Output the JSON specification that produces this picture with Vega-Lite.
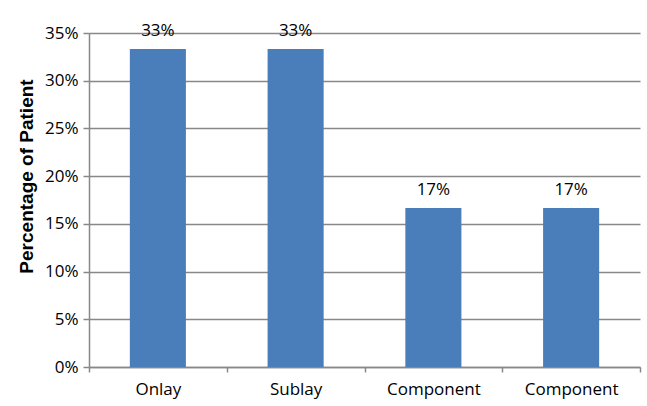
{
  "$schema": "https://vega.github.io/schema/vega-lite/v6.json",
  "autosize": {"type": "none"},
  "padding": {"left": 89, "top": 33, "right": 7, "bottom": 39},
  "width": 551,
  "height": 334,
  "background": "white",
  "config": {
    "view": {"stroke": null},
    "font": "Open Sans"
  },
  "data": {
    "values": [
      {"procedure": "Onlay#1", "share": 0.3333},
      {"procedure": "Sublay#2", "share": 0.3333},
      {"procedure": "Component#3", "share": 0.1667},
      {"procedure": "Component#4", "share": 0.1667}
    ]
  },
  "encoding": {
    "x": {
      "field": "procedure",
      "type": "nominal",
      "sort": null,
      "scale": {"paddingInner": 0, "paddingOuter": 0},
      "axis": {
        "title": null,
        "labelAngle": 0,
        "labelExpr": "datum.value ? split(datum.value, '#')[0] : ''",
        "labelFont": "Open Sans",
        "labelFontSize": 17,
        "labelColor": "#000",
        "labelPadding": 9,
        "tickBand": "extent",
        "tickSize": 5,
        "tickColor": "#888",
        "tickWidth": 1.5,
        "domainColor": "#888",
        "domainWidth": 1.5,
        "grid": false
      }
    },
    "y": {
      "field": "share",
      "type": "quantitative",
      "scale": {"domain": [0, 0.35], "nice": false},
      "axis": {
        "title": "Percentage of Patient",
        "titleFont": "Liberation Sans",
        "titleFontSize": 19,
        "titleFontWeight": "bold",
        "titleColor": "#000",
        "titlePadding": 8,
        "titleY": 143,
        "format": ".0%",
        "values": [0, 0.05, 0.1, 0.15, 0.2, 0.25, 0.3, 0.35],
        "labelFont": "Open Sans",
        "labelFontSize": 17,
        "labelColor": "#000",
        "labelPadding": 5,
        "tickSize": 6,
        "tickColor": "#888",
        "tickWidth": 1.5,
        "domainColor": "#888",
        "domainWidth": 1.5,
        "grid": true,
        "gridColor": "#888",
        "gridWidth": 1.5
      }
    }
  },
  "layer": [
    {"mark": {"type": "bar", "color": "#4a7ebb", "width": {"band": 0.407}}},
    {
      "mark": {"type": "text", "baseline": "alphabetic", "dy": -13, "fontSize": 17, "font": "Open Sans", "color": "#000"},
      "encoding": {"text": {"field": "share", "type": "quantitative", "format": ".0%"}}
    }
  ]
}
